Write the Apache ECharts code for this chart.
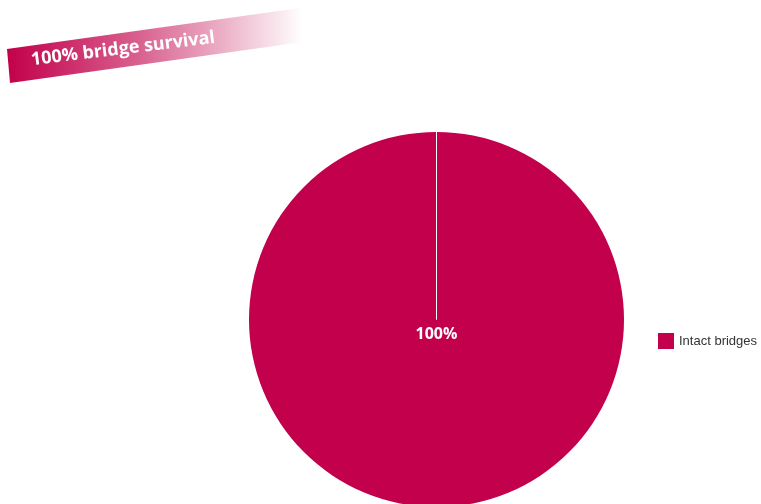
<!DOCTYPE html>
<html>
<head>
<meta charset="utf-8">
<script src="https://cdn.jsdelivr.net/npm/echarts@6/dist/echarts.min.js"></script>
<style>
html,body{margin:0;padding:0;background:#fff;}
#chart{width:761px;height:504px;}
</style>
</head>
<body>
<div id="chart"></div>
<script>
var titleText = '100% bridge survival';
var categories = ['Intact bridges', ''];
var values = [100, 0];
var pieColor = '#c2004b';

var chart = echarts.init(document.getElementById('chart'), null, {renderer: 'canvas'});
var total = values.reduce(function (a, b) { return a + b; }, 0);

var data = categories.map(function (c, i) {
  var item = { name: c, value: values[i] };
  if (i === 0) {
    item.itemStyle = { color: pieColor, borderWidth: 0 };
    item.label = {
      show: true, position: 'center', color: '#fff', fontSize: 16, fontWeight: 'bold',
      fontFamily: 'Open Sans',
      formatter: function (p) { return Math.round(p.value / total * 100) + '%'; }
    };
  } else {
    item.itemStyle = { color: pieColor, borderColor: '#fff', borderWidth: 1 };
    item.label = { show: false };
  }
  return item;
});

chart.setOption({
  animation: false,
  legend: {
    data: [categories[0]],
    orient: 'vertical',
    left: 653, top: 328,
    itemWidth: 16, itemHeight: 16, itemGap: 7,
    icon: 'rect',
    textStyle: { fontFamily: 'Liberation Sans', fontSize: 13, color: '#333' }
  },
  graphic: [
    {
      type: 'polygon',
      shape: { points: [[7, 49], [300, 8], [303, 42], [10, 83]] },
      style: {
        fill: new echarts.graphic.LinearGradient(0, 0, 1, 0, [
          { offset: 0, color: 'rgba(194,0,75,1)' },
          { offset: 0.45, color: 'rgba(194,0,75,0.62)' },
          { offset: 0.72, color: 'rgba(194,0,75,0.32)' },
          { offset: 1, color: 'rgba(194,0,75,0)' }
        ])
      }
    },
    {
      type: 'text',
      x: 123, y: 49,
      rotation: 0.122,
      style: {
        text: titleText, fill: '#fff', font: 'bold 18px "Open Sans"',
        textAlign: 'center', textVerticalAlign: 'middle'
      }
    }
  ],
  series: [{
    type: 'pie',
    center: [436.5, 319.5],
    radius: 187.5,
    startAngle: 90,
    clockwise: true,
    avoidLabelOverlap: false,
    labelLine: { show: false },
    labelLayout: { dy: 15 },
    emphasis: { disabled: true },
    data: data
  }]
});
</script>
</body>
</html>
